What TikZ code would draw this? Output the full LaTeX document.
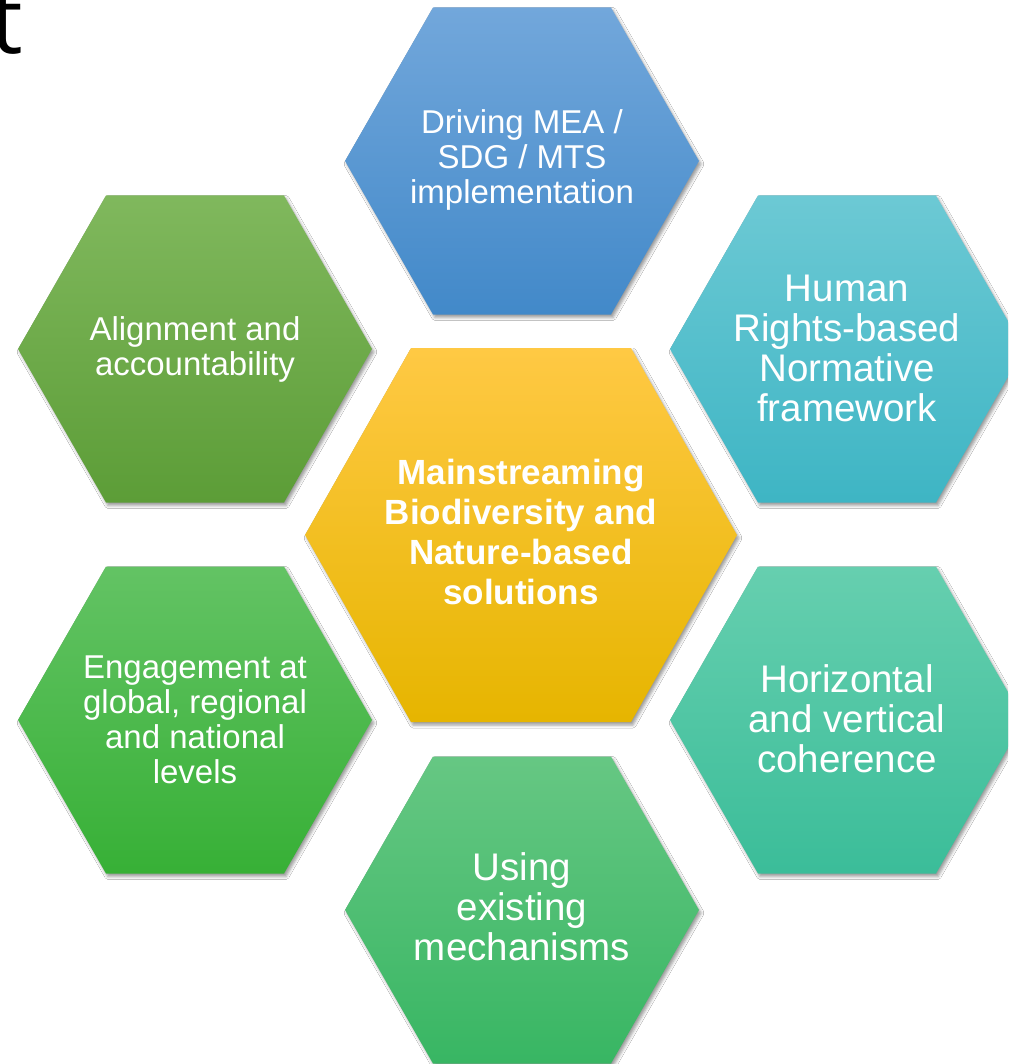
\documentclass[tikz,border=0pt]{standalone}
\usepackage{fontspec}
\setmainfont{Liberation Sans}
\newfontfamily\tfont{Open Sans}
\usetikzlibrary{shadows.blur}
\definecolor{blueT}{HTML}{72A7DB}\definecolor{blueB}{HTML}{4289C9}
\definecolor{tealT}{HTML}{6CC9D4}\definecolor{tealB}{HTML}{3EB5C4}
\definecolor{mintT}{HTML}{66CFAF}\definecolor{mintB}{HTML}{3BBD99}
\definecolor{grnT}{HTML}{66C783}\definecolor{grnB}{HTML}{38B663}
\definecolor{llT}{HTML}{63C364}\definecolor{llB}{HTML}{37B036}
\definecolor{ulT}{HTML}{80B85D}\definecolor{ulB}{HTML}{5C9D37}
\definecolor{yelT}{HTML}{FFC944}\definecolor{yelM}{HTML}{FFC400}\definecolor{yelB}{HTML}{E6B500}
\newcommand{\myhex}[6]{\path[#6] (#1-#3,#2) -- ++(#3-#4,-#5) -- ++(2*#4,0) -- ++(#3-#4,#5) -- ++(#4-#3,#5) -- ++(-2*#4,0) -- cycle;}
\tikzset{
  hexsh/.style={blur shadow={shadow xshift=2pt,shadow yshift=-3pt,shadow blur radius=3pt,shadow opacity=40}},
  txt/.style={text=white,align=center,inner sep=0pt},
  smalltxt/.style={txt,font=\fontsize{33}{35}\selectfont},
  bigtxt/.style={txt,font=\fontsize{38.5}{40}\selectfont},
  ctrtxt/.style={txt,font=\fontsize{35}{40}\selectfont\bfseries}
}
\begin{document}
\begin{tikzpicture}[x=1pt,y=-1pt]
\useasboundingbox (0,0) rectangle (1008,1064);
\clip (0,0) rectangle (1008,1064);
\fill[white] (0,0) rectangle (1008,1064);
% hexagons
\myhex{522}{161}{177}{89}{153.5}{hexsh,top color=blueT,bottom color=blueB}
\myhex{195}{349}{177}{89}{153.5}{hexsh,top color=ulT,bottom color=ulB}
\myhex{847}{349}{177}{89}{153.5}{hexsh,top color=tealT,bottom color=tealB}
\myhex{195}{720}{177}{89}{153.5}{hexsh,top color=llT,bottom color=llB}
\myhex{847}{720}{177}{89}{153.5}{hexsh,top color=mintT,bottom color=mintB}
\myhex{522}{910}{177}{89}{153.5}{hexsh,top color=grnT,bottom color=grnB}
\myhex{521}{535}{216}{110}{187}{hexsh,top color=yelT,middle color=yelM,bottom color=yelB}
% texts
\node[smalltxt] (drv) at (522,160) {Driving MEA /\\SDG / MTS\\implementation};
\node[smalltxt] (aln) at (195,349) {Alignment and\\accountability};
\node[bigtxt] (hum) at (847,348) {Human\\Rights-based\\Normative\\framework};
\node[smalltxt] (eng) at (195,720) {Engagement at\\global, regional\\and national\\levels};
\node[bigtxt] (hor) at (847,719) {Horizontal\\and vertical\\coherence};
\node[bigtxt] (use) at (522,907) {Using\\existing\\mechanisms};
\node[ctrtxt] (ctr) at (521,532) {Mainstreaming\\Biodiversity and\\Nature-based\\solutions};
% cropped title letter
\node[anchor=base west,inner sep=0pt,font=\tfont\fontsize{92}{92}\selectfont] (tt) at (-10,54) {t};
\end{tikzpicture}
\end{document}
